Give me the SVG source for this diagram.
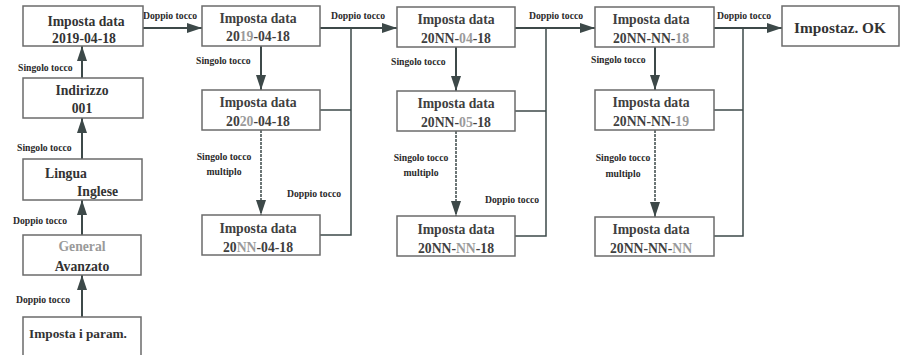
<svg xmlns="http://www.w3.org/2000/svg" width="902" height="355" viewBox="0 0 902 355">
<style>
.box{fill:#fff;stroke:#6b6b6b;stroke-width:1.5}
.t{font-family:"Liberation Serif","Times New Roman",serif;font-weight:bold;font-size:13.7px;fill:#404040;text-anchor:middle}
.t1{fill:#333}
.g{fill:#9a9a9a}
.lbl{font-family:"Liberation Serif","Times New Roman",serif;font-weight:bold;font-size:9.7px;fill:#2a2a2a}
.mid{text-anchor:middle}
.ar{stroke:#3d4949;stroke-width:2;fill:none;marker-end:url(#ah)}
.ln{stroke:#3d4949;stroke-width:1.5;fill:none}
.dash{stroke:#3d4949;stroke-width:1.5;fill:none;stroke-dasharray:3 1;marker-end:url(#ah)}
</style>
<defs>
<marker id="ah" markerUnits="userSpaceOnUse" markerWidth="15" markerHeight="10" refX="15" refY="5" orient="auto">
<path d="M0,0 L15,5 L0,10 z" fill="#3d4949"/>
</marker>
</defs>
<rect width="902" height="355" fill="#fff"/>

<g id="connectors">
<!-- column 1 vertical arrows (upwards) -->
<line class="ar" x1="82" y1="317" x2="82" y2="275"/>
<line class="ar" x1="82" y1="235" x2="82" y2="200"/>
<line class="ar" x1="82" y1="159" x2="82" y2="118"/>
<line class="ar" x1="82" y1="78" x2="82" y2="46"/>
<!-- horizontal arrows -->
<line class="ar" x1="143" y1="28" x2="202" y2="28"/>
<line class="ar" x1="320" y1="28" x2="397" y2="28"/>
<line class="ar" x1="515" y1="28" x2="595" y2="28"/>
<line class="ar" x1="714" y1="28" x2="782" y2="28"/>
<!-- column 2 -->
<line class="ar" x1="261" y1="46" x2="261" y2="90"/>
<line class="dash" x1="261" y1="130" x2="261" y2="215"/>
<polyline class="ln" points="320,110 351,110"/>
<polyline class="ln" points="320,235 351,235 351,29"/>
<!-- column 3 -->
<line class="ar" x1="456" y1="47" x2="456" y2="91"/>
<line class="dash" x1="456" y1="131" x2="456" y2="216"/>
<polyline class="ln" points="515,111 546,111"/>
<polyline class="ln" points="515,236 546,236 546,29"/>
<!-- column 4 -->
<line class="ar" x1="655" y1="47" x2="655" y2="90"/>
<line class="dash" x1="655" y1="130" x2="655" y2="217"/>
<polyline class="ln" points="714,110 743,110"/>
<polyline class="ln" points="714,236 743,236 743,29"/>

<!-- labels -->
<text class="lbl" x="143" y="19">Doppio tocco</text>
<text class="lbl" x="331" y="19">Doppio tocco</text>
<text class="lbl" x="529" y="19">Doppio tocco</text>
<text class="lbl" x="717" y="19">Doppio tocco</text>
<text class="lbl" x="18" y="71">Singolo tocco</text>
<text class="lbl" x="17" y="151">Singolo tocco</text>
<text class="lbl" x="13" y="224">Doppio tocco</text>
<text class="lbl" x="16" y="303">Doppio tocco</text>
<text class="lbl" x="196" y="64">Singolo tocco</text>
<text class="lbl mid" x="224" y="160">Singolo tocco</text>
<text class="lbl mid" x="224" y="175">multiplo</text>
<text class="lbl" x="287" y="197">Doppio tocco</text>
<text class="lbl" x="391" y="65">Singolo tocco</text>
<text class="lbl mid" x="421" y="161">Singolo tocco</text>
<text class="lbl mid" x="421" y="176">multiplo</text>
<text class="lbl" x="485" y="203">Doppio tocco</text>
<text class="lbl" x="591" y="63">Singolo tocco</text>
<text class="lbl mid" x="623" y="161">Singolo tocco</text>
<text class="lbl mid" x="623" y="177">multiplo</text>
</g>

<!-- column 1 -->
<g id="c1_data">
<rect class="box" x="23" y="6" width="120" height="40"/>
<text class="t t1" x="86" y="26">Imposta data</text>
<text class="t t1" x="84" y="43">2019-04-18</text>
</g>
<g id="c1_indirizzo">
<rect class="box" x="23" y="78" width="120" height="40"/>
<text class="t t1" x="82" y="95">Indirizzo</text>
<text class="t t1" x="82" y="113">001</text>
</g>
<g id="c1_lingua">
<rect class="box" x="23" y="159" width="119" height="41"/>
<text class="t t1" x="45" y="178" style="text-anchor:start">Lingua</text>
<text class="t t1" x="77" y="196" style="text-anchor:start">Inglese</text>
</g>
<g id="c1_general">
<rect class="box" x="23" y="235" width="118" height="40"/>
<text class="t g" x="82" y="251">General</text>
<text class="t t1" x="82" y="271">Avanzato</text>
</g>
<g id="c1_param">
<path class="box" d="M23,360 V317 H141 V360"/>
<text class="t t1" x="78" y="338" style="font-size:13.3px">Imposta i param.</text>
</g>

<!-- column 2 -->
<g id="c2_a">
<rect class="box" x="202" y="6" width="118" height="40"/>
<text class="t" x="258" y="23">Imposta data</text>
<text class="t" x="258" y="41">20<tspan class="g">19</tspan>-04-18</text>
</g>
<g id="c2_b">
<rect class="box" x="202" y="90" width="118" height="40"/>
<text class="t" x="258" y="107">Imposta data</text>
<text class="t" x="258" y="126">20<tspan class="g">20</tspan>-04-18</text>
</g>
<g id="c2_c">
<rect class="box" x="202" y="215" width="118" height="40"/>
<text class="t" x="258" y="233">Imposta data</text>
<text class="t" x="258" y="252">20<tspan class="g">NN</tspan>-04-18</text>
</g>

<!-- column 3 -->
<g id="c3_a">
<rect class="box" x="397" y="7" width="118" height="40"/>
<text class="t" x="456" y="24">Imposta data</text>
<text class="t" x="456" y="43">20NN-<tspan class="g">04</tspan>-18</text>
</g>
<g id="c3_b">
<rect class="box" x="397" y="91" width="118" height="40"/>
<text class="t" x="456" y="108">Imposta data</text>
<text class="t" x="456" y="127">20NN-<tspan class="g">05</tspan>-18</text>
</g>
<g id="c3_c">
<rect class="box" x="397" y="216" width="118" height="40"/>
<text class="t" x="456" y="234">Imposta data</text>
<text class="t" x="456" y="253">20NN-<tspan class="g">NN</tspan>-18</text>
</g>

<!-- column 4 -->
<g id="c4_a">
<rect class="box" x="595" y="7" width="119" height="40"/>
<text class="t" x="651" y="24">Imposta data</text>
<text class="t" x="651" y="43">20NN-NN-<tspan class="g">18</tspan></text>
</g>
<g id="c4_b">
<rect class="box" x="595" y="90" width="119" height="40"/>
<text class="t" x="651" y="107">Imposta data</text>
<text class="t" x="651" y="126">20NN-NN-<tspan class="g">19</tspan></text>
</g>
<g id="c4_c">
<rect class="box" x="595" y="217" width="119" height="39"/>
<text class="t" x="651" y="234">Imposta data</text>
<text class="t" x="651" y="253">20NN-NN-<tspan class="g">NN</tspan></text>
</g>

<!-- final -->
<g id="ok">
<rect class="box" x="782" y="6" width="117" height="40"/>
<text class="t t1" x="840" y="33" style="font-size:15.3px">Impostaz. OK</text>
</g>
</svg>
